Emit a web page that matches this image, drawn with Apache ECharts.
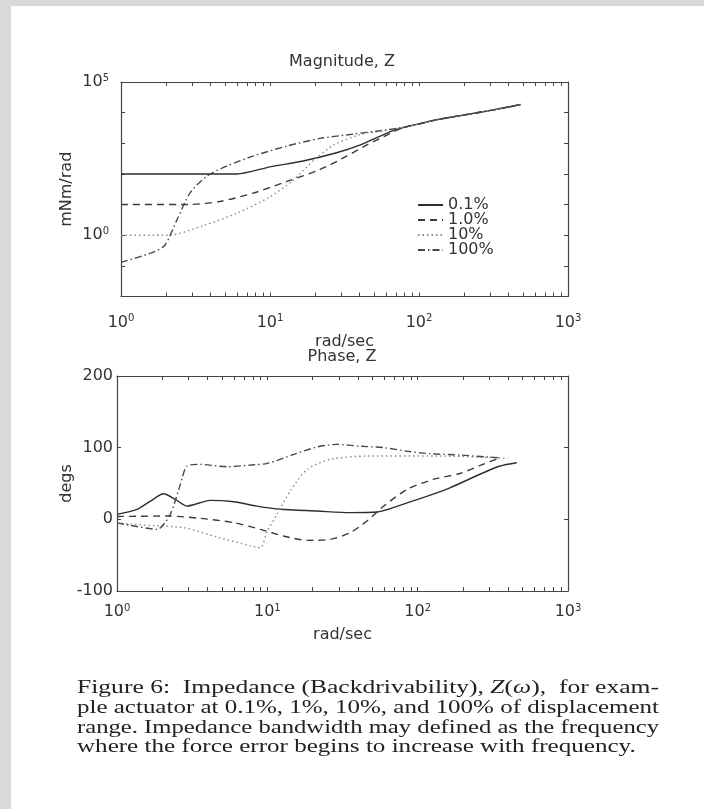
<!DOCTYPE html>
<html>
<head>
<meta charset="utf-8">
<script src="https://cdn.jsdelivr.net/npm/echarts@6/dist/echarts.min.js"></script>
<style>
  html, body { margin: 0; padding: 0; background: #ffffff; }
  #chart { width: 704px; height: 809px; }
</style>
</head>
<body>
<div id="chart"></div>
<script>
// ---- legend / series names ----
const seriesNames = ['0.1%', '1.0%', '10%', '100%'];

// ---- axis ticks ----
const freqLabelTicks = [1, 10, 100, 1000];
const freqTicks = [1, 2, 3, 4, 5, 6, 7, 8, 9,
                   10, 20, 30, 40, 50, 60, 70, 80, 90,
                   100, 200, 300, 400, 500, 600, 700, 800, 900, 1000];
const magTicks = [0.01, 0.1, 1, 10, 100, 1000, 10000, 100000];
const magLabelTicks = [1, 100000];
const phaseTicks = [-100, 0, 100, 200];

// ---- magnitude |Z| (mNm/rad) vs frequency (rad/sec): [freq, value] ----
const magSharedTail = [[87, 3700], [100, 4300], [132, 5900], [190, 8000], [316, 12300], [480, 18500]];
const mag01 = [[1, 100], [6, 100], [10, 170], [16.7, 265], [28, 490], [40, 870], [67, 2600]];
const mag1 = [[1, 10], [2.8, 10], [4.6, 12.6], [7.7, 23.6], [13, 57], [21.7, 140], [32.7, 380],
              [45, 900], [58, 1650], [72, 2750]];
const mag10 = [[1, 1], [2.1, 1], [3.6, 2.1], [6, 5.2], [10, 18], [14, 57], [20, 300], [27, 900],
               [40, 1900], [60, 2650], [74, 3160]];
const mag100 = [[1, 0.13], [1.65, 0.28], [1.97, 0.47], [2.37, 3.1], [2.9, 23.6], [3.76, 84],
                [5.1, 179], [7.7, 382], [13, 815], [21.7, 1440], [36.3, 2000], [54.8, 2570], [74, 3160]];

// ---- phase of Z (degs) vs frequency (rad/sec): [freq, value] ----
const ph01 = [[1, 7], [1.36, 14], [1.67, 25.5], [2.04, 35.7], [2.44, 27.9], [2.92, 18.5], [4.17, 26.5],
              [5.97, 24.6], [8.5, 18.5], [12.2, 14], [21.4, 11.6], [35.6, 9.3], [53.7, 10.2], [85, 23],
              [134, 37], [164, 44], [274, 65], [353, 74.4], [456, 79]];
const ph1 = [[1, 4], [2.15, 4.6], [3.58, 1.4], [6, -4.7], [9, -14], [12.8, -23.3], [18.4, -29.3],
             [26.2, -28], [35.6, -18.6], [46, -2.4], [59.5, 18.5], [85, 41.8], [128, 56], [191, 64],
             [274, 77], [353, 86]];
const ph10 = [[1, -5], [1.5, -8], [2.78, -11.7], [4.63, -24.7], [7.7, -37], [9, -39.6], [10, -16.3],
              [11.6, 7], [14.2, 39.5], [18.4, 69.7], [26.2, 83.7], [46, 88.3], [134, 88.3], [250, 87],
              [400, 85]];
const ph100 = [[1, -5], [1.23, -8.4], [1.85, -14], [2.26, 7], [2.64, 48.8], [2.92, 74.3], [3.58, 76.7],
               [5.4, 73.4], [7.7, 75.7], [10, 78], [15, 90.6], [21.4, 101], [29, 104.6], [41.5, 102],
               [59.5, 100], [85, 95], [122, 91.5], [193, 89.7], [288, 87], [357, 86]];

// ---- caption ----
const captionLines = [
  [['Figure 6:  Impedance (Backdrivability), ', 0], ['Z', 1], ['(', 0], ['ω', 1], ['),  for exam-', 0]],
  [['ple actuator at 0.1%, 1%, 10%, and 100% of displacement', 0]],
  [['range. Impedance bandwidth may defined as the frequency', 0]],
  [['where the force error begins to increase with frequency.', 0]]
];

// ---- styling ----
const FONT = 'DejaVu Sans';
const INK = '#333333';
const AXIS = '#444444';
const CAP_FONT = 'Liberation Serif';
const CAP_SIZE = 19.5;
const CAP_INK = '#222222';

const lineStyles = [
  { color: '#2e2e2e', width: 1.4, type: 'solid' },
  { color: '#3a3a3a', width: 1.4, type: [7, 5] },
  { color: '#8a8a8a', width: 1.4, type: [1.5, 3] },
  { color: '#484848', width: 1.4, type: [7, 3, 1.5, 3] }
];

function decadeLabel(v) {
  const e = Math.round(Math.log10(v));
  return '{b|10}{s|' + e + '}';
}
const decadeRich = {
  b: { fontFamily: FONT, fontSize: 16, color: INK, lineHeight: 18 },
  s: { fontFamily: FONT, fontSize: 10, color: INK, lineHeight: 10, verticalAlign: 'top' }
};
const nameStyle = { fontFamily: FONT, fontSize: 16, color: INK };

function freqAxis(gridIndex, position, withLabels, nameGap, labelMargin) {
  return {
    type: 'log', logBase: 10, gridIndex: gridIndex, position: position,
    min: 1, max: 1000,
    name: withLabels ? 'rad/sec' : '',
    nameLocation: 'middle', nameGap: nameGap, nameTextStyle: nameStyle, nameMoveOverlap: false,
    axisLine: { show: true, onZero: false, lineStyle: { color: AXIS, width: 1.2 } },
    axisTick: { show: true, inside: true, length: 4, customValues: freqTicks,
                lineStyle: { color: AXIS, width: 1 } },
    axisLabel: { show: withLabels, customValues: freqLabelTicks, formatter: decadeLabel,
                 rich: decadeRich, margin: labelMargin },
    splitLine: { show: false }, minorTick: { show: false }
  };
}

const xAxes = [
  freqAxis(0, 'bottom', true, 37, 17),
  freqAxis(0, 'top', false, 0, 0),
  freqAxis(1, 'bottom', true, 36, 12),
  freqAxis(1, 'top', false, 0, 0)
];

function magAxis(position, withLabels) {
  return {
    type: 'log', logBase: 10, gridIndex: 0, position: position,
    min: 0.01, max: 100000,
    name: withLabels ? 'mNm/rad' : '', nameLocation: 'middle', nameGap: 46,
    nameTextStyle: nameStyle, nameMoveOverlap: false,
    axisLine: { show: true, onZero: false, lineStyle: { color: AXIS, width: 1.2 } },
    axisTick: { show: true, inside: true, length: 4, customValues: magTicks,
                lineStyle: { color: AXIS, width: 1 } },
    axisLabel: { show: withLabels, customValues: magLabelTicks, formatter: decadeLabel,
                 rich: decadeRich, margin: 12 },
    splitLine: { show: false }
  };
}

function phaseAxis(position, withLabels) {
  return {
    type: 'value', gridIndex: 1, position: position,
    min: -100, max: 200, interval: 100,
    name: withLabels ? 'degs' : '', nameLocation: 'middle', nameGap: 42,
    nameTextStyle: nameStyle, nameMoveOverlap: false,
    axisLine: { show: true, onZero: false, lineStyle: { color: AXIS, width: 1.2 } },
    axisTick: { show: true, inside: true, length: 4, customValues: phaseTicks,
                lineStyle: { color: AXIS, width: 1 } },
    axisLabel: { show: withLabels, fontFamily: FONT, fontSize: 16, color: INK, margin: 4 },
    splitLine: { show: false }
  };
}

const yAxes = [magAxis('left', true), magAxis('right', false), phaseAxis('left', true), phaseAxis('right', false)];

function lineSeries(idx, data, xi, yi) {
  return {
    name: seriesNames[idx], type: 'line', xAxisIndex: xi, yAxisIndex: yi,
    data: data, symbol: 'none', showSymbol: false, smooth: 0.25,
    lineStyle: lineStyles[idx], itemStyle: { color: lineStyles[idx].color },
    emphasis: { disabled: true }
  };
}

const series = [
  lineSeries(0, mag01.concat(magSharedTail), 0, 0),
  lineSeries(1, mag1.concat(magSharedTail), 0, 0),
  lineSeries(2, mag10.concat(magSharedTail), 0, 0),
  lineSeries(3, mag100.concat(magSharedTail), 0, 0),
  lineSeries(0, ph01, 2, 2),
  lineSeries(1, ph1, 2, 2),
  lineSeries(2, ph10, 2, 2),
  lineSeries(3, ph100, 2, 2)
];

// Caption lines: typeset in a serif face, lines 1-3 stretched to the full text width.
const measureCtx = document.createElement('canvas').getContext('2d');
function lineWidth(parts) {
  let w = 0;
  parts.forEach(function (p) {
    measureCtx.font = (p[1] ? 'italic ' : '') + CAP_SIZE + 'px "' + CAP_FONT + '"';
    w += measureCtx.measureText(p[0]).width;
  });
  return w;
}
const capLeft = 77, capRight = 659, capTop = 688, capStep = 19.7;
const capScales = captionLines.map(function (parts) { return (capRight - capLeft) / lineWidth(parts); });
const avgScale = (capScales[0] + capScales[1] + capScales[2]) / 3;
const captionGraphics = captionLines.map(function (parts, i) {
  const text = parts.map(function (p) { return '{' + (p[1] ? 'i' : 'r') + '|' + p[0] + '}'; }).join('');
  return {
    type: 'text', x: capLeft, y: capTop + i * capStep,
    scaleX: i < 3 ? capScales[i] : avgScale, scaleY: 1,
    silent: true,
    style: {
      text: text, align: 'left', verticalAlign: 'middle',
      fontFamily: CAP_FONT, fontSize: CAP_SIZE, fill: CAP_INK,
      rich: {
        r: { fontFamily: CAP_FONT, fontSize: CAP_SIZE, fill: CAP_INK },
        i: { fontFamily: CAP_FONT, fontSize: CAP_SIZE, fontStyle: 'italic', fill: CAP_INK }
      }
    }
  };
});

const chart = echarts.init(document.getElementById('chart'), null, { renderer: 'canvas' });
chart.setOption({
  animation: false,
  backgroundColor: '#ffffff',
  grid: [
    { left: 121, top: 82, width: 447, height: 214.5, containLabel: false },
    { left: 117, top: 376, width: 451, height: 215, containLabel: false }
  ],
  xAxis: xAxes,
  yAxis: yAxes,
  legend: {
    data: seriesNames, orient: 'vertical', left: 417, top: 197, padding: 0,
    itemWidth: 25, itemHeight: 10, itemGap: -1, selectedMode: false,
    itemStyle: { opacity: 0 },
    textStyle: { fontFamily: FONT, fontSize: 16, color: INK, lineHeight: 15 }
  },
  graphic: [
    { type: 'rect', silent: true, shape: { x: 0, y: 0, width: 704, height: 6 }, style: { fill: '#d9d9d9' } },
    { type: 'rect', silent: true, shape: { x: 0, y: 0, width: 11, height: 809 }, style: { fill: '#d9d9d9' } },
    { type: 'text', silent: true, x: 342, y: 62,
      style: { text: 'Magnitude, Z', align: 'center', verticalAlign: 'middle', fontFamily: FONT, fontSize: 16, fill: INK } },
    { type: 'text', silent: true, x: 342, y: 357,
      style: { text: 'Phase, Z', align: 'center', verticalAlign: 'middle', fontFamily: FONT, fontSize: 16, fill: INK } }
  ].concat(captionGraphics),
  series: series
});
</script>
</body>
</html>
